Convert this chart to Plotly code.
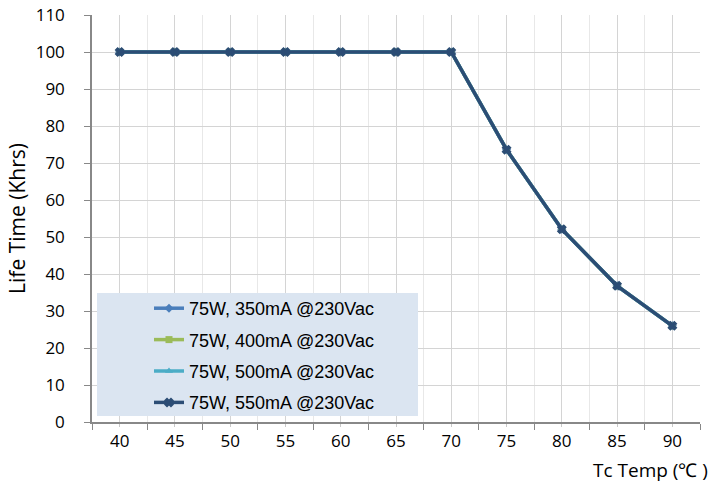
import plotly.graph_objects as go

temps = [40, 45, 50, 55, 60, 65, 70, 75, 80, 85, 90]
life_350 = [100, 100, 100, 100, 100, 100, 100, 73.6, 52.1, 36.8, 26.0]
life_400 = [100, 100, 100, 100, 100, 100, 100, 73.6, 52.1, 36.8, 26.0]
life_500 = [100, 100, 100, 100, 100, 100, 100, 73.6, 52.1, 36.8, 26.0]
life_550 = [100, 100, 100, 100, 100, 100, 100, 73.6, 52.1, 36.8, 26.0]
series_names = ["75W, 350mA @230Vac", "75W, 400mA @230Vac",
                "75W, 500mA @230Vac", "75W, 550mA @230Vac"]
y_ticks = list(range(0, 111, 10))
x_bounds = [37.5 + 5 * i for i in range(12)]

series = [
    (life_350, "#4a7ebb", "diamond", 7),
    (life_400, "#9bbb59", "square", 7),
    (life_500, "#4bacc6", "triangle-up", 7),
    (life_550, "#2c4d75", "x", 7),
]

fig = go.Figure()
for i, (vals, color, sym, size) in enumerate(series):
    fig.add_trace(go.Scatter(
        x=temps, y=vals, mode="lines+markers", name=series_names[i],
        legendgroup=f"g{i}",
        line=dict(color=color, width=3.5),
        marker=dict(symbol=sym, size=size, color=color,
                    line=dict(width=1.5 if sym == "x" else 0, color=color)),
    ))

# page body margin is removed below, so figure pixels == screen pixels
FIG_W, FIG_H = 715, 484
L, R, T, B = 92, 700, 15, 422
W, H = R - L, B - T

def px_x(v):
    return (v - L) / W

def px_y(v):
    return (B - v) / H

tick_font = dict(family="Open Sans, sans-serif", size=17, color="#000")

fig.update_layout(
    width=FIG_W, height=FIG_H,
    margin=dict(l=L, r=FIG_W - R, t=T, b=FIG_H - B),
    paper_bgcolor="white", plot_bgcolor="white",
    font=dict(family="Open Sans, sans-serif", size=16, color="#000"),
    showlegend=True,
    legend=dict(
        x=px_x(149), y=px_y(290), xanchor="left", yanchor="top",
        bgcolor="rgba(0,0,0,0)", borderwidth=0,
        font=dict(family="Liberation Sans, Arial, sans-serif", size=18, color="#000"),
        tracegroupgap=5, itemwidth=30,
    ),
    shapes=[dict(
        type="rect", xref="paper", yref="paper",
        x0=px_x(97), x1=px_x(418), y0=px_y(416), y1=px_y(293),
        fillcolor="#dbe5f1", line=dict(width=0), layer="above",
    )],
    xaxis=dict(
        range=[37.5, 92.5], tickmode="array", tickvals=temps,
        ticktext=[str(t) for t in temps],
        ticks="outside", ticklen=3, tickcolor="#c8c8c8",
        ticklabelstandoff=0, ticklabeloverflow="allow",
        showgrid=True, gridcolor="#d4d4d4", gridwidth=1,
        showline=True, linecolor="#888888", linewidth=1.5,
        zeroline=False, automargin=False,
        tickfont=tick_font,
        minor=dict(tickmode="array", tickvals=x_bounds, ticks="outside",
                   ticklen=6, tickcolor="#888888", showgrid=True,
                   gridcolor="#e8e8e8", gridwidth=1),
    ),
    yaxis=dict(
        range=[0, 110], tickmode="array", tickvals=y_ticks,
        ticks="outside", ticklen=6, tickcolor="#888888",
        ticklabelstandoff=16, ticklabeloverflow="allow",
        showgrid=True, gridcolor="#d4d4d4", gridwidth=1,
        showline=True, linecolor="#888888", linewidth=1.5,
        zeroline=False, automargin=False,
        tickfont=tick_font,
        title=dict(text="Life Time (Khrs)", standoff=4,
                   font=dict(family="Open Sans, sans-serif", size=21)),
    ),
    annotations=[dict(
        text="Tc Temp (℃ )", xref="paper", yref="paper",
        x=px_x(710), y=px_y(470), xanchor="right", yanchor="middle",
        showarrow=False,
        font=dict(family="Open Sans, sans-serif", size=19, color="#000"),
    )],
)

fig.write_html(
    "out.html",
    config={"displayModeBar": False},
    post_script="document.body.style.margin='0';document.body.style.overflow='hidden';",
)
